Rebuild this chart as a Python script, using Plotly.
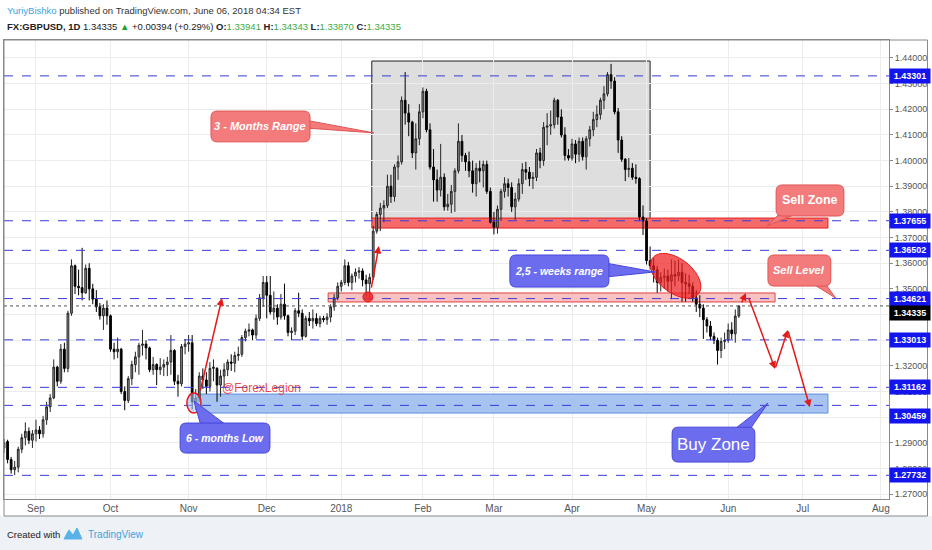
import numpy as np
import pandas as pd
import plotly.graph_objects as go

FONT = "Liberation Sans, Arial, sans-serif"

# Daily FX:GBPUSD candles, one value per trading day from 21 Aug 2017 to 06 Jun 2018
opens = [
    1.2880, 1.2905, 1.2835, 1.2795, 1.2805, 1.2875, 1.2920, 1.2945, 1.2910,  # Aug
    1.2935, 1.2950, 1.2935, 1.2990, 1.3040, 1.3075, 1.3195, 1.3140, 1.3265, 1.3190, 1.3405,
    1.3590, 1.3510, 1.3505, 1.3485, 1.3580, 1.3500, 1.3460, 1.3430, 1.3395, 1.3425,  # Sep
    1.3395, 1.3265, 1.3255, 1.3265, 1.3100, 1.3065, 1.3150, 1.3205, 1.3235, 1.3280, 1.3285,
    1.3270, 1.3185, 1.3205, 1.3185, 1.3195, 1.3205, 1.3215, 1.3260, 1.3140, 1.3130, 1.3275,  # Oct
    1.3285, 1.3290, 1.3060, 1.3075, 1.3160, 1.3145, 1.3120, 1.3190, 1.3190, 1.3125, 1.3160,
    1.3185, 1.3215, 1.3210, 1.3240, 1.3245, 1.3310, 1.3335, 1.3340, 1.3320, 1.3385, 1.3465,  # Nov
    1.3525, 1.3475, 1.3410, 1.3425, 1.3390, 1.3440, 1.3395, 1.3330, 1.3335, 1.3415, 1.3405,
    1.3315, 1.3385, 1.3375, 1.3385, 1.3365, 1.3385, 1.3380, 1.3390, 1.3430, 1.3465,  # Dec
    1.3510, 1.3525, 1.3590, 1.3525, 1.3550, 1.3565, 1.3570, 1.3535, 1.3520, 1.3545, 1.3725,
    1.3790, 1.3815, 1.3825, 1.3900, 1.3860, 1.3975, 1.3995, 1.4235, 1.4185, 1.4150, 1.4030, 1.4085,  # Jan
    1.4190, 1.4270, 1.4120, 1.3975, 1.3925, 1.3885, 1.3935, 1.3820, 1.3830, 1.3880,
    1.3960, 1.4075, 1.4020, 1.3995, 1.3960, 1.3910, 1.3970, 1.3960, 1.3985, 1.3880,  # Feb
    1.3760, 1.3740, 1.3810, 1.3880, 1.3910, 1.3895, 1.3820, 1.3850, 1.3910, 1.3965, 1.3955,
    1.3930, 1.3935, 1.4030, 1.4000, 1.4130, 1.4135, 1.4140, 1.4235, 1.4170, 1.4100, 1.4020,  # Mar
    1.4010, 1.4065, 1.4025, 1.4075, 1.4015, 1.4085, 1.4120, 1.4160, 1.4180, 1.4235, 1.4260,
    1.4335, 1.4310, 1.4190, 1.4080, 1.4005, 1.3965, 1.3970, 1.3935, 1.3930, 1.3780,  # Apr
    1.3765, 1.3610, 1.3590, 1.3575, 1.3525, 1.3545, 1.3550, 1.3530, 1.3555, 1.3550, 1.3565, 1.3525,
    1.3520, 1.3510, 1.3465, 1.3440, 1.3425, 1.3380, 1.3355, 1.3315, 1.3300, 1.3260, 1.3295,  # May
    1.3300, 1.3340, 1.3325, 1.33941,  # Jun
]
highs = [
    1.2915, 1.2912, 1.2845, 1.2830, 1.2885, 1.2935, 1.2980, 1.2960, 1.2950,
    1.2990, 1.2965, 1.3005, 1.3060, 1.3090, 1.3225, 1.3200, 1.3285, 1.3290, 1.3415,
    1.3615, 1.3595, 1.3575, 1.3660, 1.3595, 1.3600, 1.3520, 1.3495, 1.3445, 1.3440, 1.3455,
    1.3400, 1.3290, 1.3310, 1.3270, 1.3120, 1.3160, 1.3220, 1.3255, 1.3290, 1.3340, 1.3300,
    1.3275, 1.3235, 1.3210, 1.3230, 1.3225, 1.3235, 1.3320, 1.3265, 1.3165, 1.3285, 1.3305,
    1.3320, 1.3320, 1.3110, 1.3175, 1.3190, 1.3175, 1.3215, 1.3225, 1.3195, 1.3185, 1.3210,
    1.3225, 1.3245, 1.3255, 1.3275, 1.3320, 1.3345, 1.3365, 1.3345, 1.3400, 1.3480, 1.3550,
    1.3550, 1.3550, 1.3490, 1.3440, 1.3480, 1.3520, 1.3400, 1.3350, 1.3425, 1.3485, 1.3420,
    1.3395, 1.3410, 1.3420, 1.3405, 1.3395, 1.3395, 1.3405, 1.3440, 1.3480, 1.3525,
    1.3535, 1.3615, 1.3605, 1.3560, 1.3580, 1.3585, 1.3580, 1.3555, 1.3560, 1.3745, 1.3800,
    1.3835, 1.3845, 1.3945, 1.3945, 1.3985, 1.4020, 1.4250, 1.4345, 1.4220, 1.4155, 1.4145, 1.4220,
    1.4285, 1.4280, 1.4145, 1.4045, 1.3965, 1.4065, 1.3950, 1.3870, 1.3905, 1.3970,
    1.4145, 1.4100, 1.4030, 1.4035, 1.4000, 1.3990, 1.4000, 1.4000, 1.4000, 1.3895,
    1.3800, 1.3825, 1.3890, 1.3935, 1.3930, 1.3915, 1.3875, 1.3930, 1.3990, 1.3995, 1.3975,
    1.3955, 1.4045, 1.4050, 1.4150, 1.4185, 1.4195, 1.4245, 1.4240, 1.4200, 1.4130, 1.4045,
    1.4085, 1.4080, 1.4090, 1.4090, 1.4095, 1.4135, 1.4190, 1.4215, 1.4245, 1.4290, 1.4345,
    1.4377, 1.4325, 1.4205, 1.4095, 1.4010, 1.4010, 1.3990, 1.3985, 1.3935, 1.3825,
    1.3775, 1.3665, 1.3620, 1.3590, 1.3565, 1.3580, 1.3575, 1.3615, 1.3610, 1.3615, 1.3600, 1.3560,
    1.3555, 1.3525, 1.3495, 1.3475, 1.3440, 1.3390, 1.3375, 1.3330, 1.3310, 1.3310, 1.3330,
    1.3365, 1.3370, 1.3420, 1.34343,
]
lows = [
    1.2860, 1.2820, 1.2780, 1.2774, 1.2785, 1.2860, 1.2890, 1.2895, 1.2880,
    1.2905, 1.2915, 1.2920, 1.2970, 1.3020, 1.3070, 1.3120, 1.3130, 1.3175, 1.3175,
    1.3395, 1.3480, 1.3475, 1.3455, 1.3480, 1.3455, 1.3440, 1.3410, 1.3380, 1.3340, 1.3360,
    1.3255, 1.3225, 1.3230, 1.3090, 1.3027, 1.3055, 1.3125, 1.3175, 1.3165, 1.3240, 1.3225,
    1.3175, 1.3165, 1.3125, 1.3165, 1.3160, 1.3160, 1.3165, 1.3125, 1.3080, 1.3120, 1.3245,
    1.3255, 1.3030, 1.3027, 1.3060, 1.3110, 1.3090, 1.3100, 1.3140, 1.3060, 1.3080, 1.3115,
    1.3160, 1.3180, 1.3175, 1.3220, 1.3235, 1.3295, 1.3315, 1.3300, 1.3305, 1.3375, 1.3430,
    1.3385, 1.3400, 1.3380, 1.3360, 1.3380, 1.3380, 1.3315, 1.3300, 1.3320, 1.3390, 1.3300,
    1.3310, 1.3355, 1.3345, 1.3355, 1.3350, 1.3370, 1.3360, 1.3370, 1.3415, 1.3455,
    1.3490, 1.3515, 1.3510, 1.3495, 1.3525, 1.3540, 1.3510, 1.3470, 1.3460, 1.3535, 1.3715,
    1.3725, 1.3760, 1.3815, 1.3835, 1.3840, 1.3925, 1.3985, 1.4140, 1.4095, 1.4010, 1.3965, 1.4060,
    1.4165, 1.4110, 1.3965, 1.3840, 1.3840, 1.3860, 1.3805, 1.3805, 1.3795, 1.3800,
    1.3950, 1.3995, 1.3960, 1.3935, 1.3875, 1.3860, 1.3915, 1.3895, 1.3870, 1.3755,
    1.3712, 1.3715, 1.3765, 1.3855, 1.3860, 1.3800, 1.3770, 1.3840, 1.3870, 1.3925, 1.3900,
    1.3890, 1.3920, 1.3970, 1.3980, 1.4060, 1.4100, 1.4125, 1.4140, 1.4090, 1.4000, 1.4000,
    1.4000, 1.3990, 1.3995, 1.4000, 1.3965, 1.4055, 1.4095, 1.4130, 1.4160, 1.4200, 1.4250,
    1.4280, 1.4180, 1.4030, 1.3995, 1.3920, 1.3935, 1.3925, 1.3910, 1.3765, 1.3710,
    1.3595, 1.3575, 1.3525, 1.3485, 1.3490, 1.3500, 1.3490, 1.3460, 1.3510, 1.3530, 1.3450, 1.3450,
    1.3480, 1.3450, 1.3410, 1.3390, 1.3305, 1.3330, 1.3300, 1.3285, 1.3205, 1.3230, 1.3265,
    1.3290, 1.3305, 1.3290, 1.33870,
]
closes = [
    1.2900, 1.2835, 1.2795, 1.2805, 1.2875, 1.2920, 1.2945, 1.2910, 1.2935,
    1.2950, 1.2935, 1.2990, 1.3040, 1.3075, 1.3195, 1.3140, 1.3265, 1.3190, 1.3405,
    1.3590, 1.3510, 1.3505, 1.3485, 1.3580, 1.3500, 1.3460, 1.3430, 1.3395, 1.3425, 1.3395,
    1.3265, 1.3255, 1.3265, 1.3100, 1.3065, 1.3150, 1.3205, 1.3235, 1.3280, 1.3285, 1.3270,
    1.3185, 1.3205, 1.3185, 1.3195, 1.3205, 1.3215, 1.3260, 1.3140, 1.3130, 1.3275, 1.3285,
    1.3290, 1.3060, 1.3075, 1.3160, 1.3145, 1.3120, 1.3190, 1.3195, 1.3125, 1.3160, 1.3185,
    1.3215, 1.3210, 1.3240, 1.3245, 1.3310, 1.3335, 1.3340, 1.3320, 1.3385, 1.3465, 1.3525,
    1.3475, 1.3410, 1.3425, 1.3390, 1.3440, 1.3395, 1.3330, 1.3335, 1.3415, 1.3405, 1.3315,
    1.3385, 1.3375, 1.3385, 1.3365, 1.3385, 1.3380, 1.3390, 1.3430, 1.3465, 1.3510,
    1.3525, 1.3590, 1.3525, 1.3550, 1.3565, 1.3570, 1.3535, 1.3520, 1.3545, 1.3725, 1.3790,
    1.3815, 1.3825, 1.3900, 1.3860, 1.3975, 1.3995, 1.4235, 1.4185, 1.4150, 1.4030, 1.4085, 1.4190,
    1.4270, 1.4120, 1.3975, 1.3925, 1.3885, 1.3935, 1.3820, 1.3830, 1.3880, 1.3960,
    1.4075, 1.4020, 1.3995, 1.3960, 1.3910, 1.3970, 1.3960, 1.3985, 1.3880, 1.3760,
    1.3740, 1.3810, 1.3880, 1.3910, 1.3895, 1.3820, 1.3850, 1.3910, 1.3965, 1.3955, 1.3930,
    1.3935, 1.4030, 1.4000, 1.4130, 1.4135, 1.4140, 1.4235, 1.4170, 1.4100, 1.4020, 1.4010,
    1.4065, 1.4025, 1.4075, 1.4015, 1.4085, 1.4120, 1.4160, 1.4180, 1.4235, 1.4260, 1.4335,
    1.4310, 1.4190, 1.4080, 1.4005, 1.3965, 1.3970, 1.3935, 1.3930, 1.3780, 1.3765,
    1.3610, 1.3590, 1.3575, 1.3525, 1.3545, 1.3550, 1.3530, 1.3555, 1.3550, 1.3565, 1.3525, 1.3520,
    1.3510, 1.3465, 1.3440, 1.3425, 1.3380, 1.3355, 1.3315, 1.3300, 1.3260, 1.3295, 1.3300,
    1.3340, 1.3325, 1.33941, 1.34335,
]

# Horizontal levels drawn by the author (dashed blue) and the last price
levels = [1.43301, 1.37655, 1.36502, 1.34621, 1.33013, 1.31162, 1.30459, 1.27732]
last_price = 1.34335

# Price axis ticks and time axis labels
price_ticks = [1.27, 1.28, 1.29, 1.30, 1.31, 1.32, 1.33, 1.34, 1.35,
               1.36, 1.37, 1.38, 1.39, 1.40, 1.41, 1.42, 1.43, 1.44]
month_starts = ["2017-09-01", "2017-10-01", "2017-11-01", "2017-12-01", "2018-01-01", "2018-02-01",
                "2018-03-01", "2018-04-01", "2018-05-01", "2018-06-01", "2018-07-01", "2018-08-01"]
month_labels = ["Sep", "Oct", "Nov", "Dec", "2018", "Feb", "Mar", "Apr", "May", "Jun", "Jul", "Aug"]

# Price zones (low, high)
range_box = (1.3772, 1.4388)
sell_zone = (1.3737, 1.3776)
sell_band = (1.3449, 1.3484)
buy_zone = (1.3016, 1.3090)

days = pd.bdate_range("2017-08-21", "2018-06-06")
assert len(days) == len(opens) == len(highs) == len(lows) == len(closes)

# Trading-day calendar that runs past the last candle (empty room on the right)
calendar = pd.bdate_range("2017-08-21", "2018-08-31")
bars = list(range(len(days)))
month_pos = [calendar.get_loc(calendar[calendar >= pd.Timestamp(m)][0]) for m in month_starts]


def callout(x0, x1, y0, y1, tail, fill, edge):
    """Rounded label box with a pointed tail, in data units (x = bar number, y = price)."""
    rx, ry = 1.7, 0.0024
    box = (f"M {x0 + rx},{y0} L {x1 - rx},{y0} Q {x1},{y0} {x1},{y0 + ry} "
           f"L {x1},{y1 - ry} Q {x1},{y1} {x1 - rx},{y1} L {x0 + rx},{y1} "
           f"Q {x0},{y1} {x0},{y1 - ry} L {x0},{y0 + ry} Q {x0},{y0} {x0 + rx},{y0} Z")
    (ax, ay), (bx, by), (tx, ty) = tail
    tip = f"M {ax},{ay} L {tx},{ty} L {bx},{by} Z"
    return [dict(type="path", path=tip, fillcolor=fill, line=dict(color=edge, width=1)),
            dict(type="path", path=box, fillcolor=fill, line=dict(color=edge, width=1))]


def tilted_ellipse(cx, cy, a, b, angle):
    """Closed path of a rotated ellipse; sizes given in bars / price units."""
    t = np.linspace(0, 2 * np.pi, 48)
    # work in screen pixels so the tilt looks right, then go back to data units
    sx, sy = 3.55, 2565.0
    ang = np.radians(angle)
    px = a * sx * np.cos(t) * np.cos(ang) - b * sy * np.sin(t) * np.sin(ang)
    py = a * sx * np.cos(t) * np.sin(ang) + b * sy * np.sin(t) * np.cos(ang)
    xs = cx + px / sx
    ys = cy - py / sy
    return "M " + " L ".join(f"{x:.3f},{y:.5f}" for x, y in zip(xs, ys)) + " Z"


fig = go.Figure()

fig.add_trace(go.Candlestick(
    x=bars, open=opens, high=highs, low=lows, close=closes,
    increasing=dict(line=dict(color="#262626", width=1), fillcolor="#8e8e8e"),
    decreasing=dict(line=dict(color="#000000", width=1), fillcolor="#000000"),
    whiskerwidth=0, hoverinfo="skip", showlegend=False,
))

red_fill, red_edge = "#f47b7b", "#e05555"
blue_fill, blue_edge = "#6c6cef", "#4646dc"

shapes = [
    # the three month range box (grid stays visible through it)
    dict(type="rect", x0=103.6, x1=182.0, y0=range_box[0], y1=range_box[1], layer="below",
         fillcolor="#dedede", line=dict(color="#222222", width=1)),
    # zones sit over the grid but under the candles
    dict(type="rect", x0=103.6, x1=232.1, y0=sell_zone[0], y1=sell_zone[1], layer="between",
         fillcolor="#f66a6a", line=dict(color="#e02020", width=1)),
    dict(type="rect", x0=91.3, x1=217.2, y0=sell_band[0], y1=sell_band[1], layer="between",
         fillcolor="#f9c2c2", line=dict(color="#e04040", width=1)),
    dict(type="rect", x0=54.6, x1=232.1, y0=buy_zone[0], y1=buy_zone[1], layer="between",
         fillcolor="#a7c3ef", line=dict(color="#5d8fe0", width=1)),
]

# dashed author levels and the dotted last-price line
for lv in levels:
    shapes.append(dict(type="line", xref="paper", x0=0, x1=1, y0=lv, y1=lv,
                       line=dict(color="#3a3ad6", width=1, dash="dash")))
shapes.append(dict(type="line", xref="paper", x0=0, x1=1, y0=last_price, y1=last_price,
                   line=dict(color="#555555", width=1, dash="dot")))

# red marks: 2,5 week ellipse, dot on the sell level, ring on the 6 month low
shapes.append(dict(type="path", path=tilted_ellipse(189.2, 1.3551, 8.2, 0.0066, 38),
                   fillcolor="rgba(240,30,30,0.72)", line=dict(color="#e31a1a", width=1)))
shapes.append(dict(type="circle", x0=101.1, x1=103.9, y0=1.3449, y1=1.3488,
                   fillcolor="rgba(240,40,40,0.85)", line=dict(color="#e31a1a", width=1)))
shapes.append(dict(type="circle", x0=51.5, x1=55.5, y0=1.3016, y1=1.3094,
                   fillcolor="rgba(160,190,240,0.6)", line=dict(color="#e31a1a", width=1.5)))

# callout boxes
shapes += callout(58.3, 86.2, 1.4073, 1.4193, [(84, 1.4160), (84, 1.4128), (104.2, 1.4108)], red_fill, red_edge)
shapes += callout(217.5, 236.6, 1.3784, 1.3905, [(219, 1.3800), (224.5, 1.3800), (214.9, 1.3745)], red_fill, red_edge)
shapes += callout(215.2, 232.9, 1.3511, 1.3632, [(227, 1.3527), (231, 1.3527), (234.3, 1.3464)], red_fill, red_edge)
shapes += callout(142.5, 170.4, 1.3507, 1.3632, [(168.5, 1.3603), (168.5, 1.3545), (183.4, 1.3566)], blue_fill, blue_edge)
shapes += callout(49.6, 74.9, 1.2860, 1.2977, [(55.5, 1.2965), (63, 1.2965), (53.5, 1.3063)], blue_fill, blue_edge)
shapes += callout(188.2, 211.5, 1.2825, 1.2961, [(205.5, 1.2950), (210, 1.2950), (215.2, 1.3055)], blue_fill, blue_edge)


def px_x(px):
    return (px - 4) / 885


def px_y(py):
    return (499 - py) / 459


# frame around pane + axes, and the grey strip at the bottom
shapes.append(dict(type="rect", xref="paper", yref="paper", x0=px_x(-2), x1=px_x(934),
                   y0=px_y(552), y1=px_y(516), fillcolor="#eef1f6", line=dict(width=0), layer="below"))
shapes.append(dict(type="rect", xref="paper", yref="paper", x0=px_x(4), x1=px_x(927.5),
                   y0=px_y(516), y1=px_y(40), line=dict(color="#8a8a8a", width=1)))
# tiny TradingView logo
logo = [(64, 539), (69, 530), (73, 535), (77, 528), (82, 539)]
shapes.append(dict(type="path", xref="paper", yref="paper",
                   path="M " + " L ".join(f"{px_x(a):.4f},{px_y(b):.4f}" for a, b in logo) + " Z",
                   fillcolor="#58b2e6", line=dict(color="#58b2e6", width=1)))

annotations = []

# callout texts
callout_texts = [
    (72.2, 1.4133, "<b><i>3 - Months Range</i></b>", 11),
    (227.0, 1.3845, "<b>Sell Zone</b>", 12.5),
    (224.0, 1.3572, "<b><i>Sell Level</i></b>", 11),
    (156.4, 1.3570, "<b><i>2,5 - weeks range</i></b>", 10.5),
    (62.2, 1.2919, "<b><i>6 - months Low</i></b>", 10.5),
    (199.8, 1.2893, "Buy Zone", 17),
]
for x, y, txt, size in callout_texts:
    annotations.append(dict(x=x, y=y, text=txt, showarrow=False,
                            font=dict(family=FONT, size=size, color="white")))

annotations.append(dict(x=72.4, y=1.3113, text="@ForexLegion", showarrow=False,
                        font=dict(family=FONT, size=12, color="rgba(230,40,40,0.85)")))

# red arrows (tail -> head)
arrows = [
    ((55.2, 1.3098), (61.4, 1.3464)),
    ((103.4, 1.3499), (105.6, 1.3667)),
    ((207.6, 1.3441), (209.0, 1.3484)),
    ((209.6, 1.3471), (217.2, 1.3188)),
    ((217.2, 1.3188), (220.8, 1.3340)),
    ((220.8, 1.3340), (227.0, 1.3039)),
]
for (ax, ay), (hx, hy) in arrows:
    annotations.append(dict(x=hx, y=hy, ax=ax, ay=ay, axref="x", ayref="y", text="",
                            showarrow=True, arrowhead=2, arrowsize=1, arrowwidth=1.5,
                            arrowcolor="#e31a1a", standoff=0))

# price tags on the right axis (TradingView nudges crowded tags apart)
tag_shift = {1.30459: -11}
for lv in levels:
    annotations.append(dict(xref="paper", x=1, xanchor="left", y=lv, yref="y",
                            yshift=tag_shift.get(lv, 0),
                            text=f"<b>{lv:.5f}</b>", showarrow=False, bgcolor="#1414ee",
                            borderpad=2, width=36, font=dict(family=FONT, size=9, color="white")))
annotations.append(dict(xref="paper", x=1, xanchor="left", y=last_price, yref="y", yshift=-7,
                        text=f"<b>{last_price:.5f}</b>", showarrow=False, bgcolor="#000000",
                        borderpad=2, width=36, font=dict(family=FONT, size=9, color="white")))

# header and footer
annotations.append(dict(xref="paper", yref="paper", x=px_x(5), y=px_y(11), xanchor="left",
                        yanchor="middle", showarrow=False,
                        text='<span style="color:#3ea2e0">YuriyBishko</span> published on '
                             'TradingView.com, June 06, 2018 04:34 EST',
                        font=dict(family=FONT, size=9.5, color="#333333")))
green = "#3daa46"
annotations.append(dict(xref="paper", yref="paper", x=px_x(5), y=px_y(27), xanchor="left",
                        yanchor="middle", showarrow=False,
                        text=(f'<b>FX:GBPUSD, 1D</b> 1.34335 <span style="color:#22a03a">▲</span>'
                              f' +0.00394 (+0.29%) <b>O:</b><span style="color:{green}">1.33941</span>'
                              f' <b>H:</b><span style="color:{green}">1.34343</span>'
                              f' <b>L:</b><span style="color:{green}">1.33870</span>'
                              f' <b>C:</b><span style="color:{green}">1.34335</span>'),
                        font=dict(family=FONT, size=9.5, color="#222222")))
annotations.append(dict(xref="paper", yref="paper", x=px_x(5), y=px_y(534), xanchor="left",
                        yanchor="middle", showarrow=False, text="Created with",
                        font=dict(family=FONT, size=9.5, color="#222222")))
annotations.append(dict(xref="paper", yref="paper", x=px_x(86), y=px_y(534), xanchor="left",
                        yanchor="middle", showarrow=False, text="TradingView",
                        font=dict(family=FONT, size=10, color="#3ea2e0")))

fig.update_layout(
    width=932, height=550,
    margin=dict(l=4, r=43, t=40, b=51),
    paper_bgcolor="white", plot_bgcolor="white",
    font=dict(family=FONT, size=10, color="#555555"),
    showlegend=False,
    shapes=shapes,
    annotations=annotations,
    xaxis=dict(
        range=[-0.01, 249.3], rangeslider=dict(visible=False),
        tickmode="array", tickvals=month_pos, ticktext=month_labels,
        showgrid=True, gridcolor="#ececec", zeroline=False,
        showline=True, linecolor="#8a8a8a", mirror=True, ticks="",
        tickfont=dict(family=FONT, size=10, color="#555555"),
    ),
    yaxis=dict(
        side="right", range=[1.2681, 1.4470],
        tickmode="array", tickvals=price_ticks, ticktext=[f"{p:.5f}" for p in price_ticks],
        showgrid=True, gridcolor="#ececec", zeroline=False,
        showline=True, linecolor="#8a8a8a", mirror=True,
        ticks="outside", ticklen=3, tickcolor="#8a8a8a",
        tickfont=dict(family=FONT, size=9, color="#555555"),
    ),
)

# page has no default body margin, so the 932x550 figure fills the window exactly
fig.write_html("out.html", config={"displayModeBar": False},
               post_script="document.body.style.margin='0';")
